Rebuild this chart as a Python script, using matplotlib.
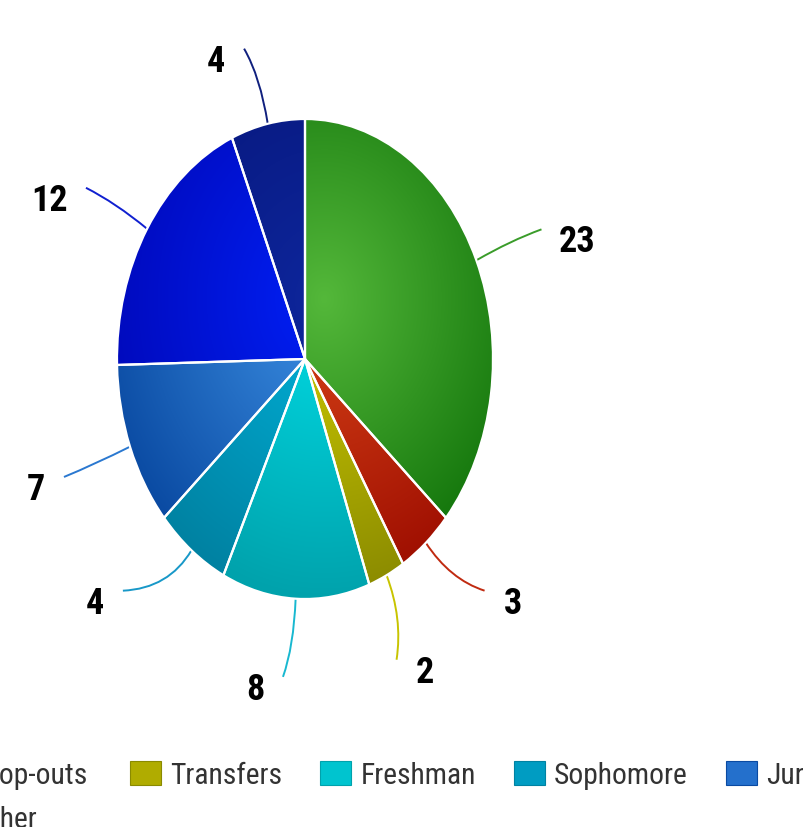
import numpy as np
import matplotlib
matplotlib.use("Agg")
import matplotlib.pyplot as plt
from matplotlib.patches import Patch, PathPatch
from matplotlib.path import Path
from matplotlib.colors import to_rgb

# data
labels = ["Graduated", "Drop-outs", "Transfers", "Freshman", "Sophomore", "Junior", "Senior", "Other"]
values = [23, 3, 2, 8, 4, 7, 12, 4]

# colours (light centre -> dark rim)
light = ["#54b83a", "#d84418", "#cfcc00", "#00dde6", "#00b2da", "#3e92e6", "#0020f6", "#0e269c"]
dark = ["#0e7008", "#9c0c00", "#8a8a00", "#00a2ac", "#0082a2", "#0a4aa2", "#0008b8", "#06167a"]
mid = ["#2f9620", "#bc2608", "#b0ac00", "#00c4cf", "#009cc2", "#2470cc", "#0014dc", "#0a1e8c"]
line_cols = ["#3a9c2a", "#c02a10", "#c8c400", "#18b8d0", "#1898c8", "#2a78d0", "#1020d0", "#10207e"]

# label layout (angle shift in degrees, radius in pie units)
label_shift = [-5.6, 7.4, 0.3, -8.1, -10.6, -0.7, 6.8, 9.4]
label_r = [1.53, 1.50, 1.45, 1.40, 1.51, 1.53, 1.51, 1.33]

plt.rcParams['font.family'] = ['Roboto Condensed', 'Liberation Sans Narrow', 'Liberation Sans']

W, H = 804, 828
fig = plt.figure(figsize=(W / 100, H / 100), dpi=100)
ax = fig.add_axes([4.2 / W, 108 / H, 601.6 / W, 720 / H])
px_x = 601.6 / 3.2
px_y = 720 / 3.0

wedges, _ = ax.pie(values, colors=mid, startangle=90, counterclock=False,
                   wedgeprops=dict(edgecolor='white', linewidth=1.6))

# radial shading inside each slice
n = 500
g = np.linspace(-1.05, 1.05, n)
X, Y = np.meshgrid(g, g)
T = np.clip(np.hypot(X - 0.1, Y - 0.25) / 1.25, 0, 1)[..., None]
for w, lc, dc in zip(wedges, light, dark):
    img = np.array(to_rgb(lc)) * (1 - T) + np.array(to_rgb(dc)) * T
    im = ax.imshow(img, extent=(-1.05, 1.05, -1.05, 1.05), origin='lower',
                   aspect='auto', zorder=2, interpolation='bilinear')
    im.set_clip_path(w)
    w.set_facecolor('none')
    w.set_zorder(3)

# value labels with curved leader lines
for w, v, col, sh, r in zip(wedges, values, line_cols, label_shift, label_r):
    m = np.deg2rad((w.theta1 + w.theta2) / 2)
    a = m + np.deg2rad(sh)
    lx, ly = r * np.cos(a), r * np.sin(a)
    s = str(v)
    gap = (8 * len(s) + 20) / px_x
    ex = lx - gap if np.cos(a) > 0 else lx + gap
    ey = ly + 12 / px_y
    verts = [(np.cos(m), np.sin(m)), (1.2 * np.cos(m), 1.2 * np.sin(m)), (ex, ey)]
    path = Path(verts, [Path.MOVETO, Path.CURVE3, Path.CURVE3])
    ax.add_patch(PathPatch(path, fill=False, edgecolor=col, lw=1.4, zorder=1))
    ax.text(lx, ly, s, ha='center', va='center', fontsize=26,
            fontweight='bold', color='black')

ax.set_aspect('auto')
ax.set_xlim(-1.6, 1.6)
ax.set_ylim(-1.5, 1.5)
ax.axis('off')

# legend, clipped by the figure edges like the original
handles = [Patch(facecolor=c, edgecolor=d, lw=0.8) for c, d in zip(mid, dark)]
leg_kw = dict(frameon=False, fontsize=21.3, handlelength=1.05, handleheight=0.91,
              handletextpad=0.30, columnspacing=1.30, borderpad=0, borderaxespad=0,
              labelcolor='#333333')
fig.legend(handles[:2], labels[:2], ncol=2, loc='center right',
           bbox_to_anchor=(88 / W, 1 - 776 / H), **leg_kw)
fig.legend(handles[2:7], labels[2:7], ncol=5, loc='center left',
           bbox_to_anchor=(130 / W, 1 - 776 / H), **leg_kw)
fig.legend(handles[7:], labels[7:], ncol=1, loc='center left',
           bbox_to_anchor=(-67 / W, 1 - 820 / H), **leg_kw)

fig.savefig("out.png", dpi=100)
